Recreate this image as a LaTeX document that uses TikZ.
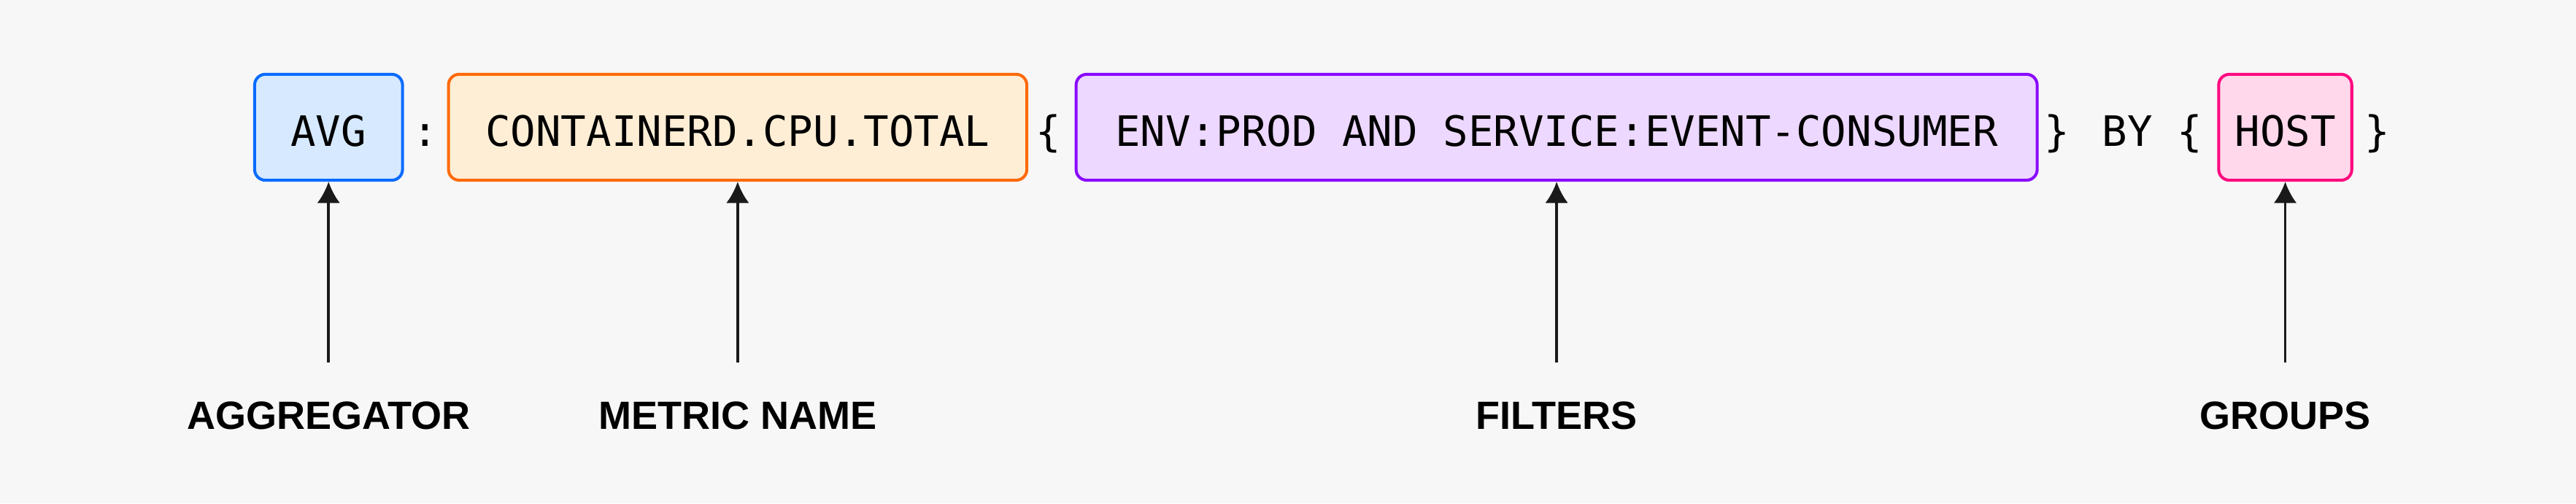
\documentclass[tikz,border=0pt]{standalone}
\usepackage{fontspec}
\setmainfont{Liberation Sans}
\newfontfamily\codefont{DejaVu Sans Mono}
\usetikzlibrary{arrows.meta}
\definecolor{bgcol}{HTML}{F7F7F7}
\definecolor{aggline}{HTML}{0A6CFF}
\definecolor{aggfill}{HTML}{D6E9FF}
\definecolor{metline}{HTML}{FF6A0A}
\definecolor{metfill}{HTML}{FFEED6}
\definecolor{filline}{HTML}{8A0AFF}
\definecolor{filfill}{HTML}{EDD8FF}
\definecolor{grpline}{HTML}{FF0A80}
\definecolor{grpfill}{HTML}{FFD8EC}
\definecolor{arrcol}{HTML}{1A1A1A}
\tikzset{
  code/.style={font=\codefont\fontsize{25.5}{30}\selectfont, text height=23pt, text depth=0pt, inner sep=0pt},
  part/.style={code, draw, line width=1.8pt, rounded corners=6.5pt, minimum height=64.5pt},
  caption/.style={font=\bfseries\fontsize{24}{28}\selectfont, text height=17.2pt, text depth=0pt},
  pointer/.style={-{Latex[length=13pt,width=14pt]}, line width=1.6pt, draw=arrcol, shorten <=20pt},
}
\begin{document}
\begin{tikzpicture}[x=1pt,y=1pt,yscale=-1,xscale=1]
%background and page size
\fill[bgcol] (0,0) rectangle (1568,306.5);
\useasboundingbox (0,0) rectangle (1568,306.5);

%query parts
\node[part, draw=aggline, fill=aggfill, minimum width=90pt]  (agg) at (200,77.5)   {AVG};
\node[part, draw=metline, fill=metfill, minimum width=352pt] (met) at (449,77.5)   {CONTAINERD.CPU.TOTAL};
\node[part, draw=filline, fill=filfill, minimum width=585pt] (fil) at (947.5,77.5) {ENV:PROD AND SERVICE:EVENT-CONSUMER};
\node[part, draw=grpline, fill=grpfill, minimum width=81pt]  (grp) at (1391,77.5)  {HOST};

%punctuation
\node[code] (colon) at (259,77.5)  {:};
\node[code] (bro1)  at (638,77.5)  {\{};
\node[code] (brc1)  at (1252,77.5) {\}};
\node[code] (by)    at (1295,77.5) {BY};
\node[code] (bro2)  at (1333,77.5) {\{};
\node[code] (brc2)  at (1447,77.5) {\}};

%captions
\node[caption] (aggcap) at (200,253)  {AGGREGATOR};
\node[caption] (metcap) at (449,253)  {METRIC NAME};
\node[caption] (filcap) at (947.5,253) {FILTERS};
\node[caption] (grpcap) at (1391,253) {GROUPS};

%pointers
\draw[pointer] (aggcap) -- (agg);
\draw[pointer] (metcap) -- (met);
\draw[pointer] (filcap) -- (fil);
\draw[pointer] (grpcap) -- (grp);
\end{tikzpicture}
\end{document}
